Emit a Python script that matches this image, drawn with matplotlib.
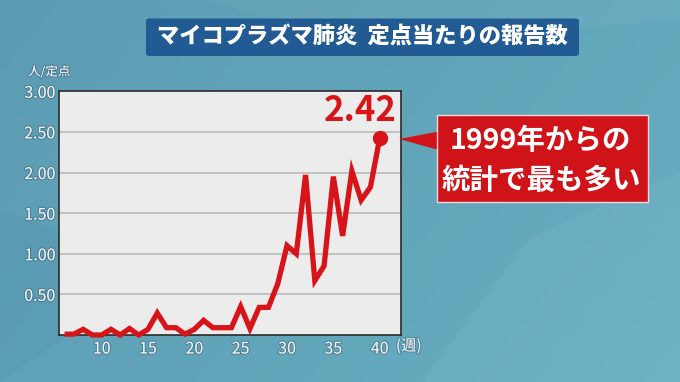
import numpy as np
import matplotlib
matplotlib.use("Agg")
import matplotlib.pyplot as plt
from matplotlib.patches import FancyBboxPatch, Polygon, Rectangle
import matplotlib.patheffects as pe

plt.rcParams['font.family'] = ['Noto Sans CJK JP', 'DejaVu Sans']

# ---- data ----
weeks = list(range(6, 41))
values = [0.01, 0.01, 0.07, 0.00, 0.00, 0.07, 0.00, 0.08, 0.00, 0.07,
          0.27, 0.09, 0.09, 0.01, 0.07, 0.18, 0.09, 0.09, 0.09, 0.35,
          0.08, 0.34, 0.34, 0.63, 1.10, 1.00, 1.97, 0.67, 0.85, 1.95,
          1.22, 2.02, 1.66, 1.82, 2.42]
yticks = [0.5, 1.0, 1.5, 2.0, 2.5, 3.0]
ytick_labels = ["0.50", "1.00", "1.50", "2.00", "2.50", "3.00"]
xticks = [10, 15, 20, 25, 30, 35, 40]
xtick_labels = ["10", "15", "20", "25", "30", "35", "40"]
title = "マイコプラズマ肺炎  定点当たりの報告数"
y_unit = "人/定点"
x_unit = "(週)"
peak_label = "2.42"
callout_lines = ["1999年からの", "統計で最も多い"]

W, H = 680, 382
fig = plt.figure(figsize=(W / 100, H / 100), dpi=100)

def fx(px):
    return px / W

def fy(py):
    return 1 - py / H

# ---- background gradient ----
bg = fig.add_axes([0, 0, 1, 1], zorder=-10)
bg.set_axis_off()
gx = np.linspace(0, 1, 200)
gy = np.linspace(0, 1, 120)
GX, GY = np.meshgrid(gx, gy)
c1 = np.array([0x5c, 0x9c, 0xb3]) / 255
c2 = np.array([0x6a, 0xb2, 0xc4]) / 255
t = np.clip(0.55 * GX + 0.25 * (1 - GY), 0, 1)[..., None]
img = c1 * (1 - t) + c2 * t
bg.imshow(img, extent=[0, 1, 0, 1], aspect='auto', origin='lower')
bg.add_patch(Polygon([[0.62, 0.0], [0.78, 0.38], [1.0, 0.55], [1.0, 0.0]],
                     closed=True, facecolor='white', alpha=0.05, edgecolor='none'))
bg.add_patch(Polygon([[0.30, 1.0], [0.55, 0.88], [1.0, 0.95], [1.0, 1.0]],
                     closed=True, facecolor='white', alpha=0.04, edgecolor='none'))
bg.add_patch(Polygon([[0.0, 0.45], [0.25, 0.30], [0.0, 0.0]],
                     closed=True, facecolor='#3d7f9c', alpha=0.10, edgecolor='none'))
bg.set_xlim(0, 1)
bg.set_ylim(0, 1)

# ---- title box ----
fig.patches.append(FancyBboxPatch((fx(146), fy(56)), fx(433), fy(18.5) - fy(56),
                                  boxstyle="round,pad=0,rounding_size=0.006",
                                  transform=fig.transFigure, facecolor='#225a93',
                                  edgecolor='none', zorder=1))
fig.text(fx(362), fy(37.5), title, color='white', fontsize=16, fontweight='heavy',
         ha='center', va='center', zorder=2)

# ---- main axes ----
left, right, top, bottom = 59.3, 401, 91.3, 335
ax = fig.add_axes([fx(left), fy(bottom), fx(right - left), fy(top) - fy(bottom)])
ax.set_facecolor('#ececec')
ax.set_xlim(5.43, 42.3)
ax.set_ylim(0, 3.0)
for s in ax.spines.values():
    s.set_color('#2a2a2a')
    s.set_linewidth(1.2)
ax.set_yticks(yticks)
ax.set_yticklabels(ytick_labels)
ax.set_xticks(xticks)
ax.set_xticklabels(xtick_labels)
ax.tick_params(length=0, colors='#f5f5f5', labelsize=11.5)
ax.tick_params(axis='y', pad=3)
ax.tick_params(axis='x', pad=4)
shadow = [pe.withStroke(linewidth=1.5, foreground=(0.2, 0.35, 0.45, 0.5))]
for lab in ax.get_xticklabels() + ax.get_yticklabels():
    lab.set_path_effects(shadow)
for yv in yticks[:-1]:
    ax.axhline(yv, color='#b4b4b4', lw=1.1, zorder=1)

ax.plot(weeks, values, color='#d71519', lw=3.8, solid_joinstyle='miter',
        solid_capstyle='butt', zorder=3, clip_on=False)
ax.plot([weeks[-1]], [values[-1]], 'o', color='#d71519', ms=10, zorder=4, clip_on=False)
ax.annotate(peak_label, (weeks[-1], values[-1]), xytext=(-14, 20),
            textcoords='offset points', ha='center', va='center',
            color='#d71519', fontsize=25, fontweight='bold', zorder=5)

fig.text(fx(28), fy(72), y_unit, color='#f5f5f5', fontsize=9, ha='left', va='center',
         path_effects=shadow)
fig.text(fx(396), fy(346), x_unit, color='#f5f5f5', fontsize=11, ha='left', va='center',
         path_effects=shadow)

# ---- callout ----
box_l, box_r, box_t, box_b = 436.7, 648, 115, 201.7
fig.patches.append(Polygon([[fx(399), fy(139)], [fx(box_l + 2), fy(131.5)],
                            [fx(box_l + 2), fy(150)]], closed=True,
                           transform=fig.transFigure, facecolor='#d01219',
                           edgecolor='none', zorder=5))
fig.patches.append(Rectangle((fx(box_l), fy(box_b)), fx(box_r - box_l), fy(box_t) - fy(box_b),
                             transform=fig.transFigure, facecolor='#d01219',
                             edgecolor='#f3d6d6', linewidth=1.0, zorder=6))
fig.text(fx(540), fy(141), callout_lines[0], color='white', fontsize=20.5,
         fontweight='bold', ha='center', va='center', zorder=7)
fig.text(fx(541), fy(181), callout_lines[1], color='white', fontsize=20.5,
         fontweight='bold', ha='center', va='center', zorder=7)

fig.savefig('out.png', dpi=100)
